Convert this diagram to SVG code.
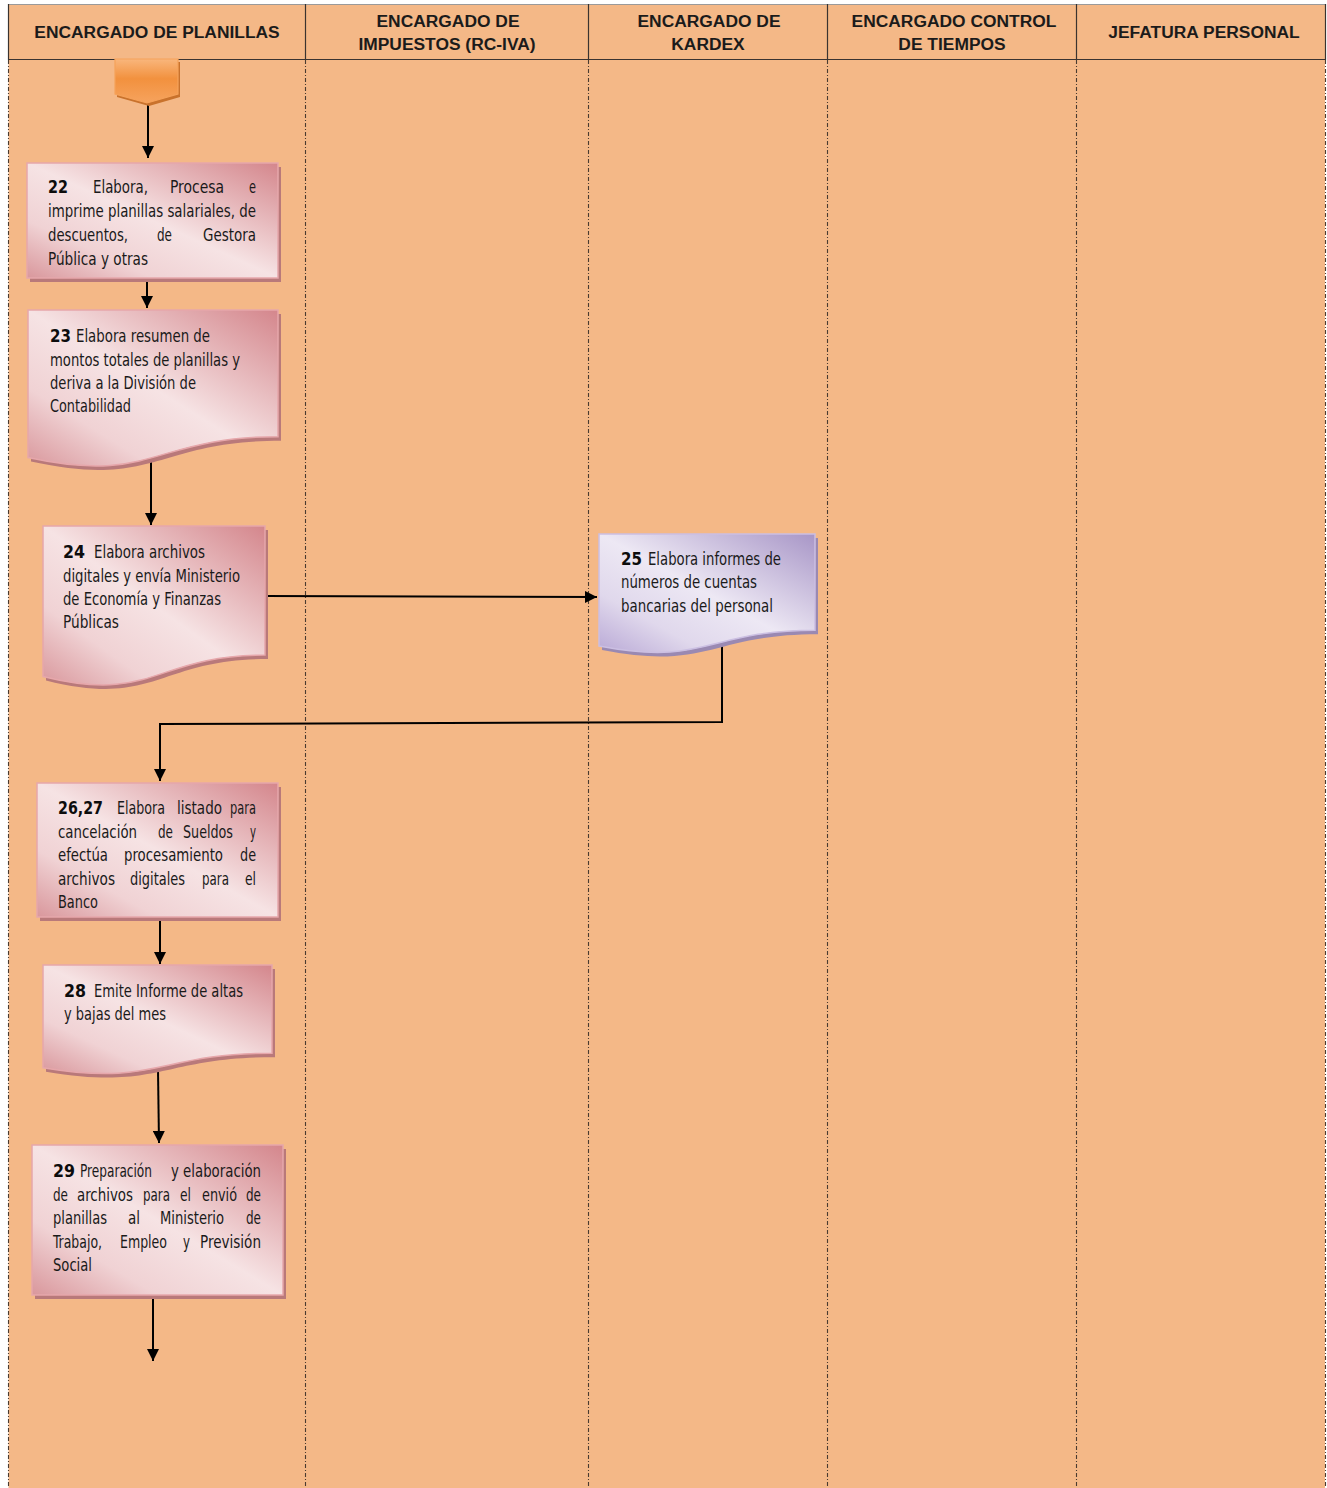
<svg xmlns="http://www.w3.org/2000/svg" width="1327" height="1488" viewBox="0 0 1327 1488">
  <style>
    .hdr { font-family: "Liberation Sans", Arial, sans-serif; font-weight: bold; font-size: 17.4px; fill: #1b1b1b; text-anchor: middle; }
    .t { font-family: "Liberation Sans Narrow", "DejaVu Sans Condensed", "Liberation Sans", sans-serif; font-size: 18.5px; fill: #1a1a1a; }
    .b { font-weight: bold; fill: #0d0d0d; }
    .lane-solid { stroke: #3a3330; stroke-width: 1.2; fill: none; }
    .lane-dash { stroke: #4a3b30; stroke-width: 1.1; stroke-dasharray: 4 2 1 2; fill: none; }
    .conn { stroke: #000; stroke-width: 2; fill: none; marker-end: url(#arrow); }
    .pink { fill: url(#gPink); stroke: #E6A7AB; stroke-width: 1.5; }
    .pink-sh { fill: #B9797A; }
    .purple { fill: url(#gPurple); stroke: #CBBFE2; stroke-width: 1.5; }
    .purple-sh { fill: #9A89B2; }
  </style>
  <defs>
    <linearGradient id="gPink" x1="1" y1="0" x2="0" y2="1">
      <stop offset="0" stop-color="#D4868C"/>
      <stop offset="0.5" stop-color="#F6E3E4"/>
      <stop offset="0.75" stop-color="#F0D2D4"/>
      <stop offset="1" stop-color="#D9979C"/>
    </linearGradient>
    <linearGradient id="gPurple" x1="1" y1="0" x2="0" y2="1">
      <stop offset="0" stop-color="#A896C7"/>
      <stop offset="0.5" stop-color="#EDE8F4"/>
      <stop offset="0.75" stop-color="#E0D8EC"/>
      <stop offset="1" stop-color="#B9A9D6"/>
    </linearGradient>
    <linearGradient id="gOrange" x1="0" y1="0" x2="0" y2="1">
      <stop offset="0" stop-color="#F9B67C"/>
      <stop offset="0.45" stop-color="#F2913E"/>
      <stop offset="1" stop-color="#F6A35E"/>
    </linearGradient>
    <marker id="arrow" viewBox="0 0 12 12" refX="12" refY="6" markerWidth="12" markerHeight="12" markerUnits="userSpaceOnUse" orient="auto">
      <path d="M0,0 L12,6 L0,12 Z" fill="#000"/>
    </marker>
  </defs>

  <!-- page and swimlanes -->
  <rect x="0" y="0" width="1327" height="1488" fill="#FFFFFF"/>
  <g id="lanes">
    <rect x="8.5" y="4.5" width="1316.5" height="1484" fill="#F4B887"/>
    <line x1="8" y1="4.5" x2="1326" y2="4.5" stroke="#9a9a9a" stroke-width="1.2"/>
    <line class="lane-solid" x1="8" y1="59.5" x2="1326" y2="59.5"/>
    <line class="lane-solid" x1="8.5" y1="4" x2="8.5" y2="60"/>
    <line class="lane-solid" x1="305.5" y1="4" x2="305.5" y2="60"/>
    <line class="lane-solid" x1="588.5" y1="4" x2="588.5" y2="60"/>
    <line class="lane-solid" x1="827.5" y1="4" x2="827.5" y2="60"/>
    <line class="lane-solid" x1="1076.5" y1="4" x2="1076.5" y2="60"/>
    <line class="lane-solid" x1="1325.5" y1="4" x2="1325.5" y2="60"/>
    <line class="lane-dash" x1="8.5" y1="60" x2="8.5" y2="1488"/>
    <line class="lane-dash" x1="305.5" y1="60" x2="305.5" y2="1488"/>
    <line class="lane-dash" x1="588.5" y1="60" x2="588.5" y2="1488"/>
    <line class="lane-dash" x1="827.5" y1="60" x2="827.5" y2="1488"/>
    <line class="lane-dash" x1="1076.5" y1="60" x2="1076.5" y2="1488"/>
    <line class="lane-dash" x1="1325.5" y1="60" x2="1325.5" y2="1488" stroke="#8a8a8a"/>
    <text class="hdr" x="157" y="38">ENCARGADO DE PLANILLAS</text>
    <text class="hdr" x="448" y="27">ENCARGADO DE</text>
    <text class="hdr" x="447" y="50">IMPUESTOS (RC-IVA)</text>
    <text class="hdr" x="709" y="27">ENCARGADO DE</text>
    <text class="hdr" x="708" y="50">KARDEX</text>
    <text class="hdr" x="954" y="27">ENCARGADO CONTROL</text>
    <text class="hdr" x="952" y="50">DE TIEMPOS</text>
    <text class="hdr" x="1204" y="38">JEFATURA PERSONAL</text>
  </g>

  <!-- connectors -->
  <g id="connectors">
    <line class="conn" x1="148" y1="102" x2="148" y2="158"/>
    <line class="conn" x1="147" y1="280" x2="147" y2="308"/>
    <line class="conn" x1="151" y1="455" x2="151" y2="525"/>
    <line class="conn" x1="265" y1="596" x2="597" y2="597"/>
    <polyline class="conn" points="722,640 722,722 160,724 160,781"/>
    <line class="conn" x1="160" y1="919" x2="160" y2="964"/>
    <line class="conn" x1="158" y1="1070" x2="159" y2="1143"/>
    <line class="conn" x1="153" y1="1297" x2="153" y2="1361"/>
  </g>

  <!-- off-page connector -->
  <g id="start">
    <path d="M117,62 H180 V97 L149,106 L117,97 Z" fill="#C9722C"/>
    <path d="M115,59 H178 V94 L147,103 L115,94 Z" fill="url(#gOrange)" stroke="#F6A25A" stroke-width="1.2"/>
  </g>

  <g id="n22">
    <rect class="pink-sh" x="30" y="167" width="251" height="115"/>
    <rect class="pink" x="27" y="163" width="251" height="115"/>
    <text class="t b" x="48" y="193" textLength="20" lengthAdjust="spacingAndGlyphs">22</text>
    <text class="t" x="93" y="193" textLength="55" lengthAdjust="spacingAndGlyphs">Elabora,</text>
    <text class="t" x="170" y="193" textLength="54" lengthAdjust="spacingAndGlyphs">Procesa</text>
    <text class="t" x="249" y="193" textLength="7" lengthAdjust="spacingAndGlyphs">e</text>
    <text class="t" x="48" y="217" textLength="208" lengthAdjust="spacingAndGlyphs">imprime planillas salariales, de</text>
    <text class="t" x="48" y="241" textLength="80" lengthAdjust="spacingAndGlyphs">descuentos,</text>
    <text class="t" x="157" y="241" textLength="15" lengthAdjust="spacingAndGlyphs">de</text>
    <text class="t" x="203" y="241" textLength="53" lengthAdjust="spacingAndGlyphs">Gestora</text>
    <text class="t" x="48" y="265" textLength="100" lengthAdjust="spacingAndGlyphs">Pública y otras</text>
  </g>

  <g id="n23">
    <path class="pink-sh" transform="translate(3,4)" d="M28,310 H278 V436.7 C153,436.7 153,484.9 28,457.6 Z"/>
    <path class="pink" d="M28,310 H278 V436.7 C153,436.7 153,484.9 28,457.6 Z"/>
    <text class="t b" x="50" y="342" textLength="21" lengthAdjust="spacingAndGlyphs">23</text>
    <text class="t" x="76" y="342" textLength="134" lengthAdjust="spacingAndGlyphs">Elabora resumen de</text>
    <text class="t" x="50" y="366" textLength="190" lengthAdjust="spacingAndGlyphs">montos totales de planillas y</text>
    <text class="t" x="50" y="389" textLength="146" lengthAdjust="spacingAndGlyphs">deriva a la División de</text>
    <text class="t" x="50" y="412" textLength="81" lengthAdjust="spacingAndGlyphs">Contabilidad</text>
  </g>

  <g id="n24">
    <path class="pink-sh" transform="translate(3,4)" d="M43,526 H265 V655.1 C154,655.1 154,704.2 43,676.4 Z"/>
    <path class="pink" d="M43,526 H265 V655.1 C154,655.1 154,704.2 43,676.4 Z"/>
    <text class="t b" x="63" y="558" textLength="22" lengthAdjust="spacingAndGlyphs">24</text>
    <text class="t" x="94" y="558" textLength="111" lengthAdjust="spacingAndGlyphs">Elabora archivos</text>
    <text class="t" x="63" y="582" textLength="177" lengthAdjust="spacingAndGlyphs">digitales y envía Ministerio</text>
    <text class="t" x="63" y="605" textLength="158" lengthAdjust="spacingAndGlyphs">de Economía y Finanzas</text>
    <text class="t" x="63" y="628" textLength="56" lengthAdjust="spacingAndGlyphs">Públicas</text>
  </g>

  <g id="n25">
    <path class="purple-sh" transform="translate(3,4)" d="M599,534 H815 V630.2 C707,630.2 707,666.8 599,646.1 Z"/>
    <path class="purple" d="M599,534 H815 V630.2 C707,630.2 707,666.8 599,646.1 Z"/>
    <text class="t b" x="621" y="565" textLength="21" lengthAdjust="spacingAndGlyphs">25</text>
    <text class="t" x="648" y="565" textLength="133" lengthAdjust="spacingAndGlyphs">Elabora informes de</text>
    <text class="t" x="621" y="588" textLength="136" lengthAdjust="spacingAndGlyphs">números de cuentas</text>
    <text class="t" x="621" y="612" textLength="152" lengthAdjust="spacingAndGlyphs">bancarias del personal</text>
  </g>

  <g id="n26_27">
    <rect class="pink-sh" x="40" y="787" width="241" height="134"/>
    <rect class="pink" x="37" y="783" width="241" height="134"/>
    <text class="t b" x="58" y="814" textLength="45" lengthAdjust="spacingAndGlyphs">26,27</text>
    <text class="t" x="117" y="814" textLength="48" lengthAdjust="spacingAndGlyphs">Elabora</text>
    <text class="t" x="177" y="814" textLength="45" lengthAdjust="spacingAndGlyphs">listado</text>
    <text class="t" x="230" y="814" textLength="26" lengthAdjust="spacingAndGlyphs">para</text>
    <text class="t" y="837.5"><tspan x="58" textLength="79" lengthAdjust="spacingAndGlyphs">cancelación</tspan><tspan x="158" textLength="15" lengthAdjust="spacingAndGlyphs">de</tspan><tspan x="183" textLength="50" lengthAdjust="spacingAndGlyphs">Sueldos</tspan><tspan x="250" textLength="6" lengthAdjust="spacingAndGlyphs">y</tspan></text>
    <text class="t" y="861"><tspan x="58" textLength="50" lengthAdjust="spacingAndGlyphs">efectúa</tspan><tspan x="124" textLength="99" lengthAdjust="spacingAndGlyphs">procesamiento</tspan><tspan x="240" textLength="16" lengthAdjust="spacingAndGlyphs">de</tspan></text>
    <text class="t" x="58" y="884.5" textLength="57" lengthAdjust="spacingAndGlyphs">archivos</text>
    <text class="t" x="130" y="884.5" textLength="55" lengthAdjust="spacingAndGlyphs">digitales</text>
    <text class="t" x="202" y="884.5" textLength="27" lengthAdjust="spacingAndGlyphs">para</text>
    <text class="t" x="245" y="884.5" textLength="11" lengthAdjust="spacingAndGlyphs">el</text>
    <text class="t" x="58" y="908" textLength="40" lengthAdjust="spacingAndGlyphs">Banco</text>
  </g>

  <g id="n28">
    <path class="pink-sh" transform="translate(3,4)" d="M43,965 H272 V1053.2 C157.5,1053.2 157.5,1086.8 43,1067.7 Z"/>
    <path class="pink" d="M43,965 H272 V1053.2 C157.5,1053.2 157.5,1086.8 43,1067.7 Z"/>
    <text class="t b" x="64" y="997" textLength="22" lengthAdjust="spacingAndGlyphs">28</text>
    <text class="t" x="94" y="997" textLength="149" lengthAdjust="spacingAndGlyphs">Emite Informe de altas</text>
    <text class="t" x="64" y="1020" textLength="102" lengthAdjust="spacingAndGlyphs">y bajas del mes</text>
  </g>

  <g id="n29">
    <rect class="pink-sh" x="35" y="1149" width="251" height="150"/>
    <rect class="pink" x="32" y="1145" width="251" height="150"/>
    <text class="t b" x="53" y="1177" textLength="22" lengthAdjust="spacingAndGlyphs">29</text>
    <text class="t" x="80" y="1177" textLength="72" lengthAdjust="spacingAndGlyphs">Preparación</text>
    <text class="t" x="171" y="1177" textLength="90" lengthAdjust="spacingAndGlyphs">y elaboración</text>
    <text class="t" x="53" y="1200.5" textLength="15" lengthAdjust="spacingAndGlyphs">de</text>
    <text class="t" x="77" y="1200.5" textLength="56" lengthAdjust="spacingAndGlyphs">archivos</text>
    <text class="t" x="143" y="1200.5" textLength="27" lengthAdjust="spacingAndGlyphs">para</text>
    <text class="t" x="180" y="1200.5" textLength="11" lengthAdjust="spacingAndGlyphs">el</text>
    <text class="t" x="202" y="1200.5" textLength="35" lengthAdjust="spacingAndGlyphs">envió</text>
    <text class="t" x="246" y="1200.5" textLength="15" lengthAdjust="spacingAndGlyphs">de</text>
    <text class="t" x="53" y="1224" textLength="54" lengthAdjust="spacingAndGlyphs">planillas</text>
    <text class="t" x="128" y="1224" textLength="12" lengthAdjust="spacingAndGlyphs">al</text>
    <text class="t" x="160" y="1224" textLength="64" lengthAdjust="spacingAndGlyphs">Ministerio</text>
    <text class="t" x="246" y="1224" textLength="15" lengthAdjust="spacingAndGlyphs">de</text>
    <text class="t" x="53" y="1247.5" textLength="49" lengthAdjust="spacingAndGlyphs">Trabajo,</text>
    <text class="t" x="120" y="1247.5" textLength="47" lengthAdjust="spacingAndGlyphs">Empleo</text>
    <text class="t" x="183" y="1247.5" textLength="7" lengthAdjust="spacingAndGlyphs">y</text>
    <text class="t" x="200" y="1247.5" textLength="61" lengthAdjust="spacingAndGlyphs">Previsión</text>
    <text class="t" x="53" y="1271" textLength="39" lengthAdjust="spacingAndGlyphs">Social</text>
  </g>
</svg>
